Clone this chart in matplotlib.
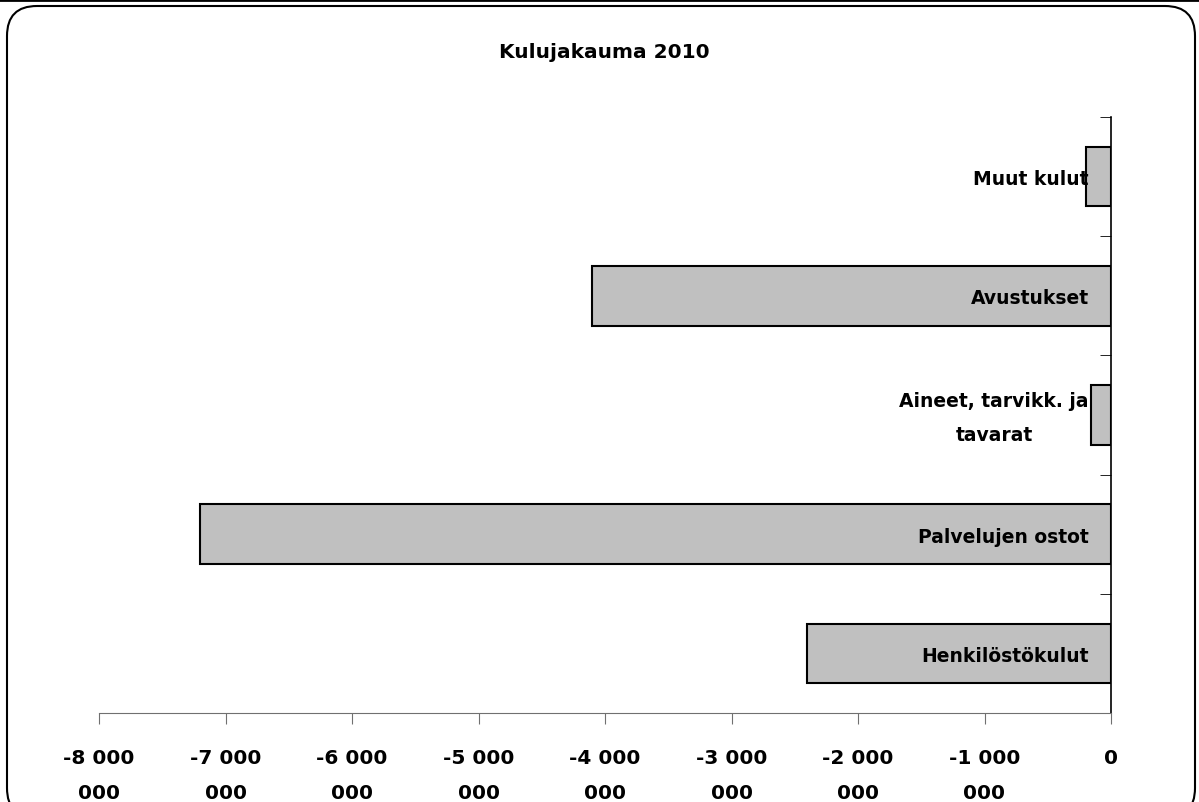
import matplotlib
matplotlib.use("Agg")
import matplotlib.pyplot as plt
from matplotlib.patches import FancyBboxPatch
from matplotlib.lines import Line2D
from matplotlib.ticker import FixedLocator
from matplotlib.transforms import ScaledTranslation

# Data
categories = ['Henkilöstökulut', 'Palvelujen ostot', 'Aineet, tarvikk. ja\ntavarat',
              'Avustukset', 'Muut kulut']
values = [-2400000, -7200000, -160000, -4100000, -200000]
xticks = [-8000000, -7000000, -6000000, -5000000, -4000000,
          -3000000, -2000000, -1000000, 0]
xtick_labels = ['-8 000\n000', '-7 000\n000', '-6 000\n000', '-5 000\n000',
                '-4 000\n000', '-3 000\n000', '-2 000\n000', '-1 000\n000', '0']
title = 'Kulujakauma 2010'

plt.rcParams['font.family'] = 'DejaVu Sans'
plt.rcParams['font.weight'] = 'bold'

fig = plt.figure(figsize=(11.99, 8.03), dpi=100)

# rounded frame around the chart area
frame = FancyBboxPatch((7/1199, -0.02), 1188/1199, 1 - 7/803 + 0.02,
                       boxstyle='round,pad=0,rounding_size=0.025',
                       transform=fig.transFigure, fill=False,
                       edgecolor='black', linewidth=1.5, mutation_aspect=1199/803)
fig.patches.append(frame)
fig.lines.append(Line2D([0, 1], [0.999, 0.999], transform=fig.transFigure,
                        color='black', linewidth=2))

ax = fig.add_axes([99/1199, (803-714)/803, (1111-99)/1199, (714-118)/803])

ypos = list(range(len(categories)))
ax.barh(ypos, values, height=0.5, color='#c0c0c0', edgecolor='black', linewidth=1.5)

ax.set_xlim(-8000000, 0)
ax.set_ylim(-0.5, len(categories) - 0.5)

ax.spines['top'].set_visible(False)
ax.spines['left'].set_visible(False)
ax.spines['bottom'].set_color('#707070')
ax.spines['right'].set_color('black')
ax.spines['right'].set_linewidth(1.2)

ax.set_xticks(xticks)
ax.set_xticklabels(xtick_labels, fontsize=14.5, fontweight='bold', linespacing=2.1,
                   va='top')
ax.tick_params(axis='x', direction='out', length=8, color='#707070', pad=17)

# category labels sit inside the plot, next to the right axis
ax.yaxis.tick_right()
ax.set_yticks(ypos)
ax.set_yticklabels(categories, fontsize=13.5, fontweight='bold', linespacing=2.0)
ax.tick_params(axis='y', which='major', length=0, pad=-16)
for lab in ax.get_yticklabels():
    lab.set_ha('right')
    lab.set_multialignment('center')
    if '\n' in lab.get_text():
        # two-line label sits a bit higher in the original
        lab.set_transform(lab.get_transform() +
                          ScaledTranslation(0, 7/100, fig.dpi_scale_trans))
ax.yaxis.set_minor_locator(FixedLocator([i - 0.5 for i in range(len(categories) + 1)]))
ax.tick_params(axis='y', which='minor', direction='in', length=8, color='black')

fig.text(604/1199, 1 - 53/803, title, ha='center', va='center',
         fontsize=14.5, fontweight='bold')

fig.savefig('out.png', dpi=100)
